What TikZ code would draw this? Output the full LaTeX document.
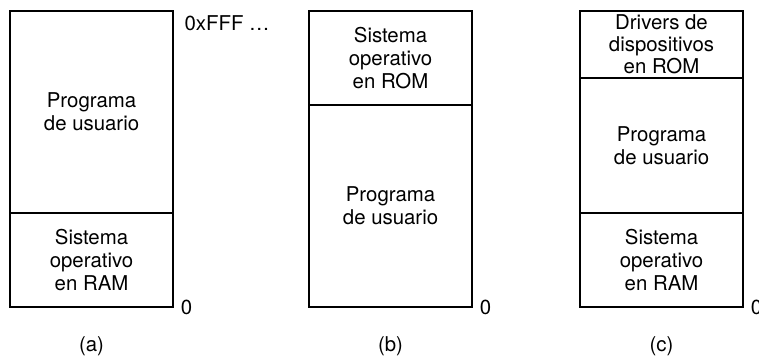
\documentclass[tikz,border=0pt]{standalone}
\usepackage{fontspec}
\setmainfont{TeX Gyre Heros}
\usetikzlibrary{positioning}

\begin{document}
\begin{tikzpicture}[x=0.025cm,y=-0.025cm,
  every node/.style={font=\fontsize{14.5}{16.5}\selectfont},
  region/.style={draw,line width=1.5pt,minimum width=4.075cm,inner sep=0pt,outer sep=0pt,align=center},
  addr/.style={anchor=west,xshift=2pt}]
\useasboundingbox (0,0) rectangle (759,358);
\coordinate (capline) at (0,346);
% (a) sistema operativo abajo, en RAM
\node[region,minimum height=5.05cm,anchor=north west] (usrA) at (10,11) {Programa\\de usuario};
\node[region,minimum height=2.35cm,below=0pt of usrA] (soA) {Sistema\\operativo\\en RAM};
\node[anchor=north west,inner sep=0pt] (topA) at ([xshift=8pt,yshift=-3pt]usrA.north east) {0xFFF …};
\node[addr] (zeroA) at (soA.south east) {0};
\node (capA) at (soA.south |- capline) {(a)};
% (b) sistema operativo arriba, en ROM
\node[region,minimum height=2.35cm,anchor=north west] (soB) at (309,11) {Sistema\\operativo\\en ROM};
\node[region,minimum height=5.05cm,below=0pt of soB] (usrB) {Programa\\de usuario};
\node[addr] (zeroB) at (usrB.south east) {0};
\node (capB) at (usrB.south |- capline) {(b)};
% (c) drivers en ROM + SO en RAM
\node[region,minimum height=1.675cm,anchor=north west,font=\fontsize{14.5}{15.5}\selectfont] (drvC) at (580,11) {Drivers de\\dispositivos\\en ROM};
\node[region,minimum height=3.375cm,below=0pt of drvC] (usrC) {Programa\\de usuario};
\node[region,minimum height=2.35cm,below=0pt of usrC] (soC) {Sistema\\operativo\\en RAM};
\node[addr] (zeroC) at (soC.south east) {0};
\node (capC) at (soC.south |- capline) {(c)};
\end{tikzpicture}
\end{document}
